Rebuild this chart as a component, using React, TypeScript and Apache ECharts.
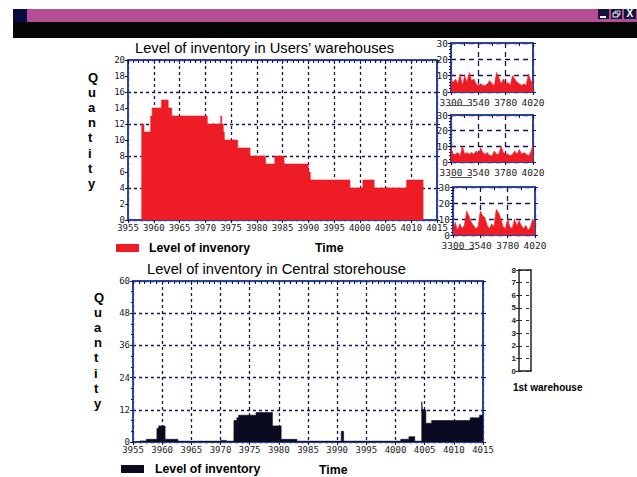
import React, { useEffect, useRef } from "react";
import * as echarts from "echarts";

const usersTimes = [3957.6, 3958.1, 3959.4, 3959.7, 3961.5, 3962.8, 3963.5, 3970.4, 3973, 3973.2, 3973.5, 3973.7, 3976.3, 3978.7, 3981.7, 3983.5, 3985.3, 3990, 3990.4, 3998.1, 4000.6, 4002.8, 4009.1, 4012.3];
const usersLevels = [12, 11, 13, 14, 15, 14, 13, 12, 13, 12, 11, 10, 9, 8, 7, 8, 7, 6, 5, 4, 5, 4, 5, 0];

const centralTimes = [3955, 3956.2, 3957.3, 3959.1, 3959.4, 3960.5, 3962.7, 3970, 3971, 3972.3, 3972.8, 3973.1, 3976.1, 3978.9, 3980.4, 3983.1, 3990.7, 3991.1, 4000.9, 4002.3, 4003.3, 4004.5, 4004.6, 4005.2, 4006.2, 4012.8, 4014.4, 4015];
const centralLevels = [0, 0.4, 1, 5, 6, 1, 0.3, 0.6, 0.3, 8, 9, 10, 11, 6, 1, 0.3, 4, 0.3, 1, 2, 0.3, 15, 12, 7, 8, 9, 10, 10];

const smallTimes = [3300, 3320, 3340, 3360, 3380, 3400, 3420, 3440, 3460, 3480, 3500, 3520, 3540, 3560, 3580, 3600, 3620, 3640, 3660, 3680, 3700, 3720, 3740, 3760, 3780, 3800, 3820, 3840, 3860, 3880, 3900, 3920, 3940, 3960, 3980, 4000, 4020];
const wh1 = [7, 6, 8, 5, 11, 4, 10, 6, 12, 7, 8, 5, 4, 5, 4, 4, 5, 7, 5, 4, 12, 9, 5, 8, 5, 6, 4, 10, 8, 6, 5, 4, 5, 4, 11, 7, 5];
const wh2 = [9, 5, 5, 6, 4, 10, 5, 6, 5, 6, 5, 7, 5, 9, 6, 5, 6, 4, 4, 7, 5, 5, 10, 6, 5, 5, 4, 5, 7, 5, 8, 5, 6, 5, 4, 6, 11];
const wh3 = [2, 8, 3, 7, 4, 6, 15, 12, 8, 6, 4, 5, 15, 12, 11, 6, 4, 7, 5, 16, 14, 10, 5, 4, 10, 5, 4, 10, 6, 9, 6, 4, 6, 3, 5, 10, 8];

const USERS_TITLE = "Level of inventory in Users\u2019 warehouses";
const CENTRAL_TITLE = "Level of inventory in Central storehouse";
const USERS_LEGEND = "Level of invenory";
const CENTRAL_LEGEND = "Level of inventory";
const RED = "#ee1c25";
const DARK = "#0a0a20";
const BLUE = "#2c43a0";
const NAVY = "#14145a";
const MONO = "'DejaVu Sans Mono', monospace";
const SANS = "'Liberation Sans', Arial, sans-serif";

const zip = (xs: number[], ys: number[]) => xs.map((x, i) => [x, ys[i]]);

type Panel = {
  box: [number, number, number, number];
  xMin: number; xMax: number; xStep: number; xMinor: number;
  yMax: number; yLabelStep: number; yGridStep: number; yMinor: number;
  font: number; dash: number[]; xMargin: number;
};

function buildOption() {
  const grid: any[] = [], xAxis: any[] = [], yAxis: any[] = [], series: any[] = [];
  const addPanel = (p: Panel, name: string, data: number[][], color: string, step: boolean) => {
    const g = grid.length;
    const [l, t, r, b] = p.box;
    grid.push({ left: l, top: t, width: r - l, height: b - t });
    const line = { lineStyle: { color: BLUE, width: 2 } };
    const dashed = { show: true, lineStyle: { color: NAVY, type: p.dash, width: 1.3 } };
    const label = { color: "#222", fontFamily: MONO, fontSize: p.font, margin: 3 };
    const xi = xAxis.length, yi = yAxis.length;
    xAxis.push({
      type: "value", gridIndex: g, position: "bottom", min: p.xMin, max: p.xMax, interval: p.xStep,
      axisLine: { show: true, onZero: false, ...line },
      axisTick: { show: true, length: 3, lineStyle: { color: NAVY } },
      axisLabel: { ...label, margin: p.xMargin, formatter: (v: number) => String(v) },
      splitLine: dashed,
    });
    xAxis.push({
      type: "value", gridIndex: g, position: "top", min: p.xMin, max: p.xMax, interval: p.xStep,
      axisLine: { show: true, onZero: false, ...line },
      axisTick: { show: true, inside: true, length: 4, lineStyle: { color: NAVY } },
      minorTick: { show: true, splitNumber: p.xMinor, length: 3, lineStyle: { color: NAVY } },
      axisLabel: { show: false }, splitLine: { show: false },
    });
    yAxis.push({
      type: "value", gridIndex: g, position: "left", min: 0, max: p.yMax, interval: p.yLabelStep,
      axisLine: { show: true, onZero: false, ...line },
      axisTick: { show: true, length: 3, lineStyle: { color: NAVY } },
      minorTick: { show: p.yMinor > 1, splitNumber: p.yMinor, length: 2, lineStyle: { color: NAVY } },
      axisLabel: label, splitLine: { show: false },
    });
    yAxis.push({
      type: "value", gridIndex: g, position: "right", min: 0, max: p.yMax, interval: p.yGridStep,
      axisLine: { show: true, onZero: false, ...line },
      axisTick: { show: true, length: 3, lineStyle: { color: NAVY } },
      axisLabel: { show: false }, splitLine: dashed,
    });
    series.push({
      type: "line", name, xAxisIndex: xi, yAxisIndex: yi, data,
      step: step ? "end" : false, symbol: "none", silent: true,
      itemStyle: { color }, lineStyle: { color, width: 0.6 },
      areaStyle: { color, opacity: 1 },
    });
  };

  addPanel({ box: [128, 60, 437, 220], xMin: 3955, xMax: 4015, xStep: 5, xMinor: 5, yMax: 20, yLabelStep: 2, yGridStep: 4, yMinor: 1, font: 9, dash: [3, 3], xMargin: 3 },
    USERS_LEGEND, zip(usersTimes, usersLevels), RED, true);
  addPanel({ box: [133, 281, 483, 442], xMin: 3955, xMax: 4015, xStep: 5, xMinor: 5, yMax: 60, yLabelStep: 12, yGridStep: 12, yMinor: 3, font: 9, dash: [3, 3], xMargin: 3 },
    CENTRAL_LEGEND, zip(centralTimes, centralLevels), DARK, true);
  const small = (top: number, bottom: number, left: number): Panel => ({
    box: [left, top, left + 82, bottom], xMin: 3300, xMax: 4020, xStep: 240, xMinor: 2, yMax: 30, yLabelStep: 10, yGridStep: 10, yMinor: 5, font: 9.5, dash: [5, 4], xMargin: 5,
  });
  addPanel(small(43, 92, 451), "Warehouse 1", zip(smallTimes, wh1), RED, false);
  addPanel(small(115, 162, 451), "Warehouse 2", zip(smallTimes, wh2), RED, false);
  addPanel(small(187, 235, 453), "Warehouse 3", zip(smallTimes, wh3), RED, false);

  // 1st warehouse strip gauge, closed on all four sides
  const g = grid.length;
  const stripLine = { show: true, onZero: false, lineStyle: { color: "#222", width: 1.5 } };
  grid.push({ left: 519, top: 270, width: 12, height: 101 });
  const stripX = xAxis.length, stripY = yAxis.length;
  xAxis.push({
    type: "category", gridIndex: g, position: "bottom", data: [""], axisLine: stripLine,
    axisTick: { show: false }, axisLabel: { show: false }, splitLine: { show: false },
  });
  xAxis.push({
    type: "category", gridIndex: g, position: "top", data: [""], axisLine: stripLine,
    axisTick: { show: false }, axisLabel: { show: false }, splitLine: { show: false },
  });
  yAxis.push({
    type: "value", gridIndex: g, position: "left", min: 0, max: 8, interval: 1,
    axisLine: stripLine,
    axisTick: { show: true, length: 3, lineStyle: { color: "#222" } },
    axisLabel: { color: "#222", fontFamily: SANS, fontSize: 8, fontWeight: "bold", margin: 3 },
    splitLine: { show: true, lineStyle: { color: "#333", type: [3, 4], width: 1 } },
  });
  yAxis.push({
    type: "value", gridIndex: g, position: "right", min: 0, max: 8, interval: 1,
    axisLine: stripLine, axisTick: { show: false }, axisLabel: { show: false }, splitLine: { show: false },
  });
  series.push({ type: "bar", name: "1st warehouse", xAxisIndex: stripX, yAxisIndex: stripY, data: [0], silent: true, itemStyle: { color: RED } });

  const text = (x: number, y: number, t: string, font: number, bold: boolean, extra: any = {}) => ({
    type: "text", x, y, z: 10,
    style: { text: t, fontFamily: SANS, fontSize: font, fontWeight: bold ? "bold" : "normal", fill: "#000", ...extra },
  });
  const rect = (x: number, y: number, w: number, h: number, fill: string, extra: any = {}) => ({
    type: "rect", shape: { x, y, width: w, height: h }, style: { fill, ...extra }, z: 9,
  });

  const legendText = { fontFamily: SANS, fontSize: 12.3, fontWeight: "bold" as const, color: "#000" };

  return {
    animation: false,
    backgroundColor: "#fff",
    grid, xAxis, yAxis, series,
    legend: [
      { data: [USERS_LEGEND], left: 116, top: 242, padding: 0, itemGap: 0, icon: "rect", itemWidth: 23, itemHeight: 8, selectedMode: false, textStyle: { ...legendText, padding: [0, 0, 0, 5] } },
      { data: [CENTRAL_LEGEND], left: 121, top: 463, padding: 0, itemGap: 0, icon: "rect", itemWidth: 23, itemHeight: 8, selectedMode: false, textStyle: { ...legendText, padding: [0, 0, 0, 6] } },
    ],
    graphic: [
      rect(13, 9, 624, 13, "#b24d96"),
      rect(13, 22, 624, 16, "#050505"),
      rect(13, 9, 14, 13, "#0a0a40"),
      rect(598, 9, 11, 10, "#14143c"),
      rect(611, 9, 11, 10, "#14143c"),
      rect(624, 9, 12, 10, "#14143c"),
      rect(600, 16, 6, 2, "#fff"),
      rect(615, 11, 5, 4, "none", { stroke: "#ddd", lineWidth: 1 }),
      rect(613, 13, 5, 4, "#14143c", { stroke: "#fff", lineWidth: 1 }),
      text(626.5, 8.5, "X", 10, true, { fill: "#fff" }),
      text(135, 40, USERS_TITLE, 14.7, false),
      text(147, 261, CENTRAL_TITLE, 14.7, false),
      text(88, 70, "Q\nu\na\nn\nt\ni\nt\ny", 13, true, { lineHeight: 15.1, align: "left" }),
      text(94, 290, "Q\nu\na\nn\nt\ni\nt\ny", 13, true, { lineHeight: 15.1, align: "left" }),
      text(315, 242, "Time", 12.3, true),
      text(319, 464, "Time", 12.3, true),
      text(513, 382, "1st warehouse", 10, true),
      rect(450, 105, 22, 1, "#555"),
      rect(450, 177, 22, 1, "#555"),
      rect(452, 249, 22, 1, "#555"),
    ],
  };
}

export default function App() {
  const ref = useRef<HTMLDivElement>(null);
  useEffect(() => {
    const chart = echarts.init(ref.current!, undefined, { renderer: "svg" });
    chart.setOption(buildOption() as any);
    return () => chart.dispose();
  }, []);
  return <div ref={ref} style={{ position: "absolute", left: 0, top: 0, width: 637, height: 477 }} />;
}
